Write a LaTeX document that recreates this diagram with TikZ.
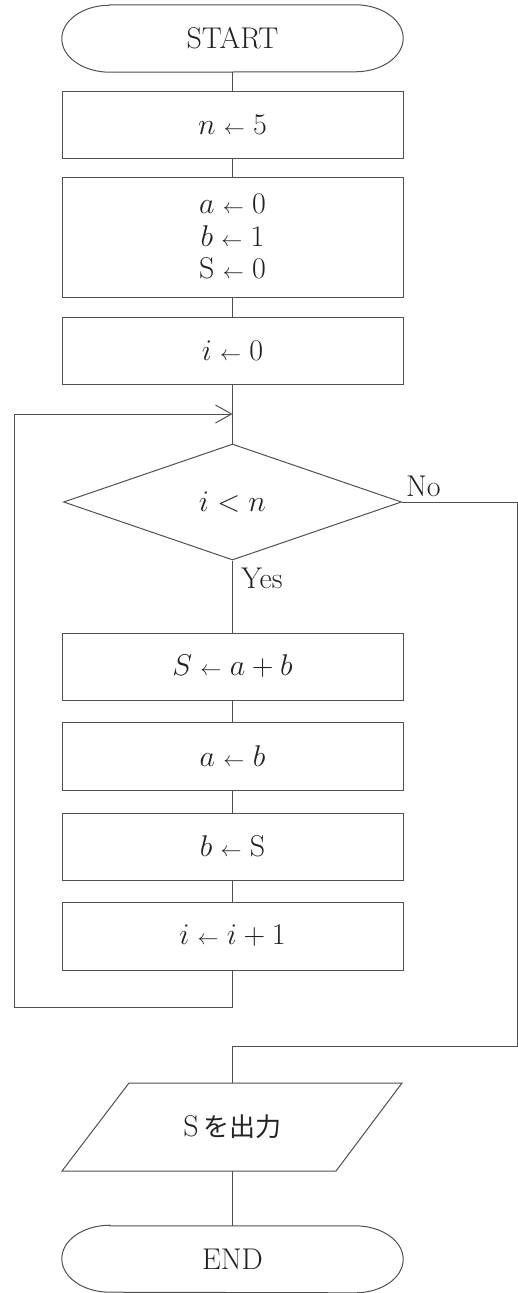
\RequirePackage{fix-cm}
\documentclass[tikz,border=0pt]{standalone}
\usepackage{fontspec}
\newfontfamily\cjk{Noto Sans CJK JP}
\usetikzlibrary{arrows.meta,shapes.geometric}
\definecolor{lc}{HTML}{505050}
\definecolor{tc}{HTML}{222222}
\newcommand{\la}{\mathrel{\scriptstyle\leftarrow}}
\newcommand{\terminalshape}[1]{%
  \draw[line] ([xshift=48pt]#1.north west) -- ([xshift=-48pt]#1.north east)
    arc[start angle=90,end angle=-90,x radius=48pt,y radius=33.5pt]
    -- ([xshift=48pt]#1.south west)
    arc[start angle=270,end angle=90,x radius=48pt,y radius=33.5pt] -- cycle;}
\begin{document}
\begin{tikzpicture}[x=1pt,y=-1pt,
  line/.style={draw=lc,line width=1pt},
  txt/.style={text=tc,font=\fontsize{30}{32.5}\selectfont},
  proc/.style={txt,line,rectangle,minimum width=341pt,minimum height=67pt,inner sep=0pt,align=center},
  term/.style={txt,rectangle,minimum width=341pt,minimum height=67pt,inner sep=0pt},
  decision/.style={txt,line,diamond,minimum width=338pt,minimum height=116pt,inner sep=0pt},
  lbl/.style={txt,inner sep=0pt,anchor=base west},
  flow/.style={line},
  loopar/.style={line,-{Straight Barb[length=16pt,width=18pt,line width=1pt]}}]
\useasboundingbox (0,0) rectangle (518,1293);

\node[term] (start) at (232.5,38.5) {START};
\terminalshape{start}
\node[proc] (n5) at (232.5,124.5) {$n \la 5$};
\node[proc,minimum height=120pt] (abs) at (232.5,237) {$a \la 0$\\$b \la 1$\\$\mathrm{S} \la 0$};
\node[proc] (i0) at (232.5,350.5) {$i \la 0$};
\coordinate (merge) at (232.5,414);
\node[decision] (cond) at (232.5,502) {$i < n$};
\node[lbl] (yes) at (241,588) {Yes};
\node[lbl] (no) at (406,496) {No};
\node[proc] (sab) at (232.5,666.5) {$S \la a + b$};
\node[proc,minimum height=68pt] (ab) at (232.5,756) {$a \la b$};
\node[proc] (bs) at (232.5,846.5) {$b \la \mathrm{S}$};
\node[proc,minimum height=68pt] (inc) at (232.5,936) {$i \la i + 1$};
\coordinate (outN) at (232.5,1083);
\coordinate (outS) at (232.5,1171);
\node[txt,inner sep=0pt] (out) at (232.5,1127) {$\mathrm{S}$\,{\cjk\fontsize{26}{30}\selectfont を出力}};
\draw[line] (129,1083) -- (402,1083) -- (336,1171) -- (62,1171) -- cycle;
\node[term,minimum height=66pt] (end) at (232.5,1259) {END};
\terminalshape{end}

\draw[flow] (start) -- (n5);
\draw[flow] (n5) -- (abs);
\draw[flow] (abs) -- (i0);
\draw[flow] (i0) -- (cond.north);
\draw[flow] (cond.south) -- (sab);
\draw[flow] (sab) -- (ab);
\draw[flow] (ab) -- (bs);
\draw[flow] (bs) -- (inc);
\draw[loopar] (inc.south) -- (232.5,1007) -| (14,414) -- (merge);
\draw[flow] (cond.east) -| (517,1046) -| (outN);
\draw[flow] (outS) -- (end.north);
\end{tikzpicture}
\end{document}
